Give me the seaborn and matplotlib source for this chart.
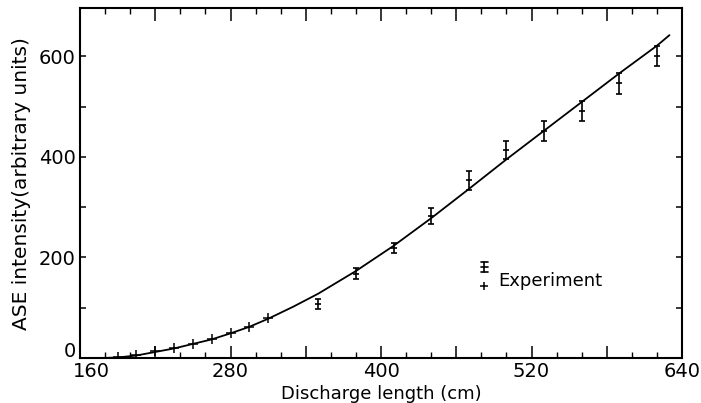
import matplotlib
matplotlib.use('Agg')
import matplotlib.pyplot as plt
import matplotlib.transforms as mtransforms
import seaborn as sns
from matplotlib.lines import Line2D
from matplotlib.legend_handler import HandlerBase
from matplotlib.ticker import MultipleLocator, FixedLocator, FuncFormatter

# theory curve
curve_x = [178, 190, 205, 220, 235, 250, 265, 280, 295, 310, 330, 350, 380,
           410, 440, 470, 500, 530, 560, 590, 620, 630]
curve_y = [0, 1, 5, 12, 19, 28, 37, 49, 62, 78, 102, 128, 173,
           223, 278, 336, 395, 452, 509, 566, 621, 642]

# low points, plotted as plus signs
plus_x = [190, 205, 220, 235, 250, 265, 280, 295, 310]
plus_y = [2, 6, 13, 20, 28, 37, 50, 62, 79]

# points with error bars
err_x = [350, 380, 410, 440, 470, 500, 530, 560, 590, 620]
err_y = [108, 168, 218, 283, 353, 414, 451, 491, 546, 600]
err_e = [10, 10, 10, 16, 19, 18, 20, 20, 21, 20]

x_ticks = [160, 220, 280, 340, 400, 460, 520, 580, 640]
x_labels = ['160', '', '280', '', '400', '', '520', '', '640']
y_ticks = [0, 100, 200, 300, 400, 500, 600]
y_labels = ['', '', '200', '', '400', '', '600']   # the 0 is drawn on its own below

sns.set_style('ticks')
plt.rcParams['font.family'] = ['DejaVu Sans']
for k in ('text.color', 'axes.labelcolor', 'xtick.color', 'ytick.color'):
    plt.rcParams[k] = 'black'


class StackedHandler(HandlerBase):
    # error bar glyph stacked above a plus sign
    def create_artists(self, legend, orig_handle, xdescent, ydescent,
                       width, height, fontsize, trans):
        cx = width / 2 - xdescent
        mid = height / 2 - ydescent
        bot, top = mid + 5.0, mid + 12.5
        arts = [Line2D([cx, cx], [bot, top], color='k', lw=1.2, transform=trans)]
        for yy in (bot, (bot + top) / 2, top):
            arts.append(Line2D([cx - 2.5, cx + 2.5], [yy, yy], color='k',
                               lw=1.2, transform=trans))
        arts.append(Line2D([cx], [mid - 5.0], marker='+', ms=6, mew=1.1,
                           color='k', transform=trans))
        return arts


fig = plt.figure(figsize=(7.01, 4.03), dpi=100)
ax = fig.add_axes([80 / 701, 1 - 358 / 403, 602 / 701, 349.5 / 403])

sns.lineplot(x=curve_x, y=curve_y, color='k', lw=1.3, sort=False,
             estimator=None, ax=ax)
sns.scatterplot(x=plus_x, y=plus_y, marker='+', s=45, color='k',
                linewidth=1.1, ax=ax, zorder=3)
ax.errorbar(err_x, err_y, yerr=err_e, fmt='_', ms=5, mew=1.2, color='k',
            ecolor='k', elinewidth=1.2, capsize=2.5, capthick=1.2, zorder=3)

ax.set_xlim(160, 640)
ax.set_ylim(0, 695)

ax.set_xticks(x_ticks)
ax.set_xticklabels(x_labels)
ax.xaxis.set_minor_locator(MultipleLocator(20))
ax.set_yticks(y_ticks)
ax.set_yticklabels(y_labels)

ax.tick_params(axis='x', which='major', direction='in', length=9, width=1.1,
               top=True, bottom=True, labelsize=14, pad=3)
ax.tick_params(axis='x', which='minor', direction='in', length=4, width=1.0,
               top=True, bottom=True)
ax.tick_params(axis='y', which='major', direction='in', length=4.5, width=1.1,
               left=True, right=True, labelsize=14, pad=3)

for s in ax.spines.values():
    s.set_visible(True)
    s.set_linewidth(1.5)
    s.set_color('k')

# corner labels sit apart, like the original
lab160 = ax.xaxis.get_major_ticks()[0].label1
lab160.set_transform(lab160.get_transform() +
                     mtransforms.ScaledTranslation(8 / 72, 0, fig.dpi_scale_trans))
ax.annotate('0', xy=(0, 0), xycoords='axes fraction', xytext=(-3, 1),
            textcoords='offset points', ha='right', va='baseline', fontsize=14)

ax.set_xlabel('Discharge length (cm)', fontsize=13, labelpad=3)
ax.set_ylabel('ASE intensity(arbitrary units)', fontsize=14.5)
ax.yaxis.set_label_coords(-0.082, 0.5)

ax.legend(handles=[object()], labels=['Experiment'],
          handler_map={object: StackedHandler()},
          loc='center left', bbox_to_anchor=((475 - 80) / 602, (358 - 280.5) / 349.5),
          frameon=False, fontsize=13, handlelength=1.0, handletextpad=0.3,
          borderpad=0, borderaxespad=0)

fig.savefig('out.png', dpi=100)
